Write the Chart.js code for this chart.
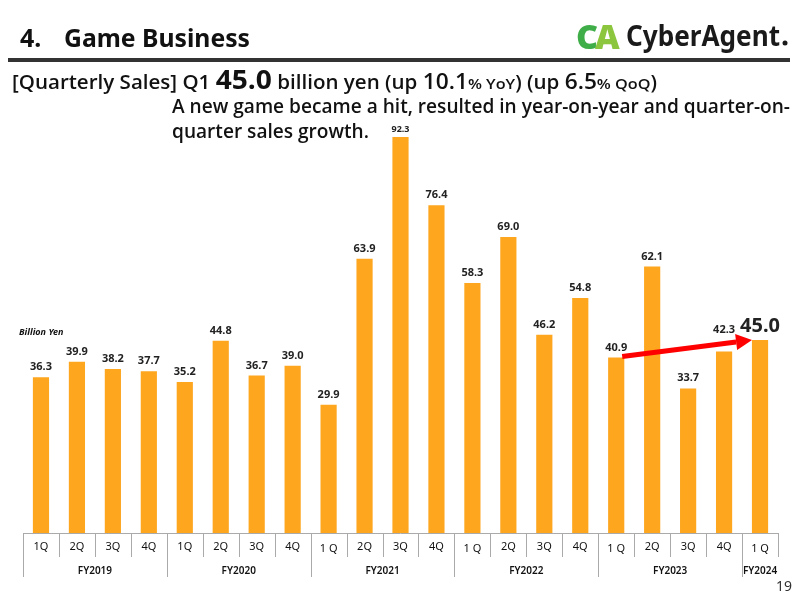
<!DOCTYPE html>
<html><head><meta charset="utf-8">
<script src="https://cdn.jsdelivr.net/npm/chart.js@4/dist/chart.umd.min.js"></script>
<style>html,body{margin:0;padding:0;background:#fff}#c{display:block}</style>
</head><body>
<canvas id="c" width="800" height="600"></canvas>
<script>
const quarters = ['1Q','2Q','3Q','4Q','1Q','2Q','3Q','4Q','1 Q','2Q','3Q','4Q','1 Q','2Q','3Q','4Q','1 Q','2Q','3Q','4Q','1 Q'];
const sales = [36.3,39.9,38.2,37.7,35.2,44.8,36.7,39.0,29.9,63.9,92.3,76.4,58.3,69.0,46.2,54.8,40.9,62.1,33.7,42.3,45.0];
const fiscalYears = ['FY2019','FY2020','FY2021','FY2022','FY2023','FY2024'];
const yearSpans = [4,4,4,4,4,1];
const arrowFrom = 16, arrowTo = 20;

const FONT = '"Noto Sans", Lato, sans-serif';
const SUB = '"Open Sans", "Noto Sans", sans-serif';

function fitText(ctx, txt, x, y, w) {
  const m = ctx.measureText(txt).width;
  ctx.save(); ctx.translate(x, y); ctx.scale(w / m, 1); ctx.fillText(txt, 0, 0); ctx.restore();
}

const deco = {
  id:'deco',
  afterDatasetsDraw(chart){
    const ctx = chart.ctx, xs = chart.scales.x, ys = chart.scales.y;
    const meta = chart.getDatasetMeta(0);
    const base = ys.getPixelForValue(0);
    const step = xs.getPixelForValue(1) - xs.getPixelForValue(0);
    const left = xs.getPixelForValue(0) - step/2;
    const right = xs.getPixelForValue(sales.length-1) + step/2;
    ctx.save();
    // header
    ctx.fillStyle = '#111';
    ctx.textBaseline = 'alphabetic';
    ctx.font = 'bold 25px ' + FONT;
    ctx.fillText('4.', 20, 47);
    fitText(ctx, 'Game Business', 64, 47, 186);
    ctx.fillStyle = '#333';
    ctx.fillRect(8, 58, 782, 4);
    // logo
    ctx.font = '900 34px ' + FONT;
    ctx.fillStyle = '#3FAE49';
    ctx.fillText('C', 576, 49);
    ctx.fillStyle = '#8CC63F';
    ctx.fillText('A', 595, 49);
    ctx.fillStyle = '#1a1a1a';
    ctx.font = 'bold 28px ' + FONT;
    fitText(ctx, 'CyberAgent', 626, 46, 154);
    ctx.beginPath(); ctx.arc(785, 43, 2.5, 0, Math.PI*2); ctx.fill();
    // subtitle
    const parts = [
      ['[Quarterly Sales] Q1 ', '600 19px'],
      ['45.0', 'bold 26px'],
      [' billion yen (up ', '600 19px'],
      ['10.1', '600 21px'],
      ['% YoY', '600 15px'],
      [') (up ', '600 19px'],
      ['6.5', '600 21px'],
      ['% QoQ', '600 15px'],
      [')', '600 19px']
    ];
    let tot = 0;
    parts.forEach(p => { ctx.font = p[1] + ' ' + SUB; tot += ctx.measureText(p[0]).width; });
    const sc = 645 / tot;
    let x = 12;
    ctx.fillStyle = '#111';
    parts.forEach(p => {
      ctx.font = p[1] + ' ' + SUB;
      const w = ctx.measureText(p[0]).width * sc;
      fitText(ctx, p[0], x, 89, w); x += w;
    });
    ctx.font = '600 19px ' + SUB;
    fitText(ctx, 'A new game became a hit, resulted in year-on-year and quarter-on-', 172, 113, 618);
    const l2 = ctx.measureText('A new game became a hit, resulted in year-on-year and quarter-on-').width;
    const l3 = ctx.measureText('quarter sales growth.').width;
    fitText(ctx, 'quarter sales growth.', 172, 138, l3 * 618 / l2);
    // unit
    ctx.font = 'italic bold 9px ' + FONT;
    ctx.fillText('Billion Yen', 19, 335);
    // value labels
    ctx.textAlign = 'center';
    ctx.fillStyle = '#222';
    meta.data.forEach((bar, i) => {
      const v = sales[i];
      if (i === sales.length-1) {
        ctx.font = 'bold 20px ' + FONT;
        ctx.fillText(v.toFixed(1), bar.x, bar.y - 8);
      } else if (i === 19) {
        ctx.font = 'bold 11px ' + FONT;
        ctx.fillText(v.toFixed(1), bar.x, bar.y - 19);
      } else {
        ctx.font = (v > 90 ? 'bold 9px ' : 'bold 11px ') + FONT;
        ctx.fillText(v.toFixed(1), bar.x, bar.y - (v > 90 ? 5 : 7));
      }
    });
    // table
    ctx.strokeStyle = '#aaa';
    ctx.lineWidth = 1;
    ctx.beginPath();
    ctx.moveTo(left, base + 0.5); ctx.lineTo(right, base + 0.5);
    for (let i = 0; i <= sales.length; i++) {
      const lx = Math.round(left + i*step) + 0.5;
      ctx.moveTo(lx, base); ctx.lineTo(lx, base + 24);
    }
    let acc = 0;
    [0].concat(yearSpans).forEach(s => {
      acc += s;
      if (acc >= sales.length) return;
      const lx = Math.round(left + acc*step) + 0.5;
      ctx.moveTo(lx, base); ctx.lineTo(lx, base + 44);
    });
    ctx.stroke();
    ctx.fillStyle = '#111';
    ctx.font = '11px ' + FONT;
    ctx.textBaseline = 'middle';
    quarters.forEach((q, i) => {
      ctx.fillText(q, xs.getPixelForValue(i), base + (q.length > 2 ? 16 : 14));
    });
    ctx.font = '600 10px ' + FONT;
    acc = 0;
    fiscalYears.forEach((fy, k) => {
      const cx = left + (acc + yearSpans[k]/2)*step;
      ctx.fillText(fy, cx, base + 38);
      acc += yearSpans[k];
    });
    // arrow
    const b0 = meta.data[arrowFrom], b1 = meta.data[arrowTo];
    const x0 = b0.x + 6, y0 = b0.y - 1, x1 = b1.x - 8, y1 = b1.y;
    const ang = Math.atan2(y1 - y0, x1 - x0);
    const hl = 16, hw = 8;
    const bx = x1 - hl*Math.cos(ang), by = y1 - hl*Math.sin(ang);
    ctx.strokeStyle = '#F00'; ctx.fillStyle = '#F00';
    ctx.lineWidth = 5; ctx.lineCap = 'butt';
    ctx.beginPath(); ctx.moveTo(x0, y0); ctx.lineTo(bx, by); ctx.stroke();
    ctx.beginPath();
    ctx.moveTo(x1, y1);
    ctx.lineTo(bx + hw*Math.sin(ang), by - hw*Math.cos(ang));
    ctx.lineTo(bx - hw*Math.sin(ang), by + hw*Math.cos(ang));
    ctx.closePath(); ctx.fill();
    // page number
    ctx.textAlign = 'right'; ctx.textBaseline = 'alphabetic';
    ctx.fillStyle = '#333';
    ctx.font = '14px ' + FONT;
    ctx.fillText('19', 792, 591);
    ctx.restore();
  }
};

new Chart(document.getElementById('c'), {
  type: 'bar',
  data: { labels: quarters, datasets: [{ data: sales, backgroundColor: '#FDA61E', barPercentage: 0.45, categoryPercentage: 1 }] },
  options: {
    responsive: false, animation: false,
    layout: { padding: { left: 23, right: 22, top: 104, bottom: 67 } },
    plugins: { legend: { display: false }, tooltip: { enabled: false } },
    scales: {
      x: { display: false },
      y: { display: false, min: 0, max: 100 }
    }
  },
  plugins: [deco]
});
</script>
</body></html>
